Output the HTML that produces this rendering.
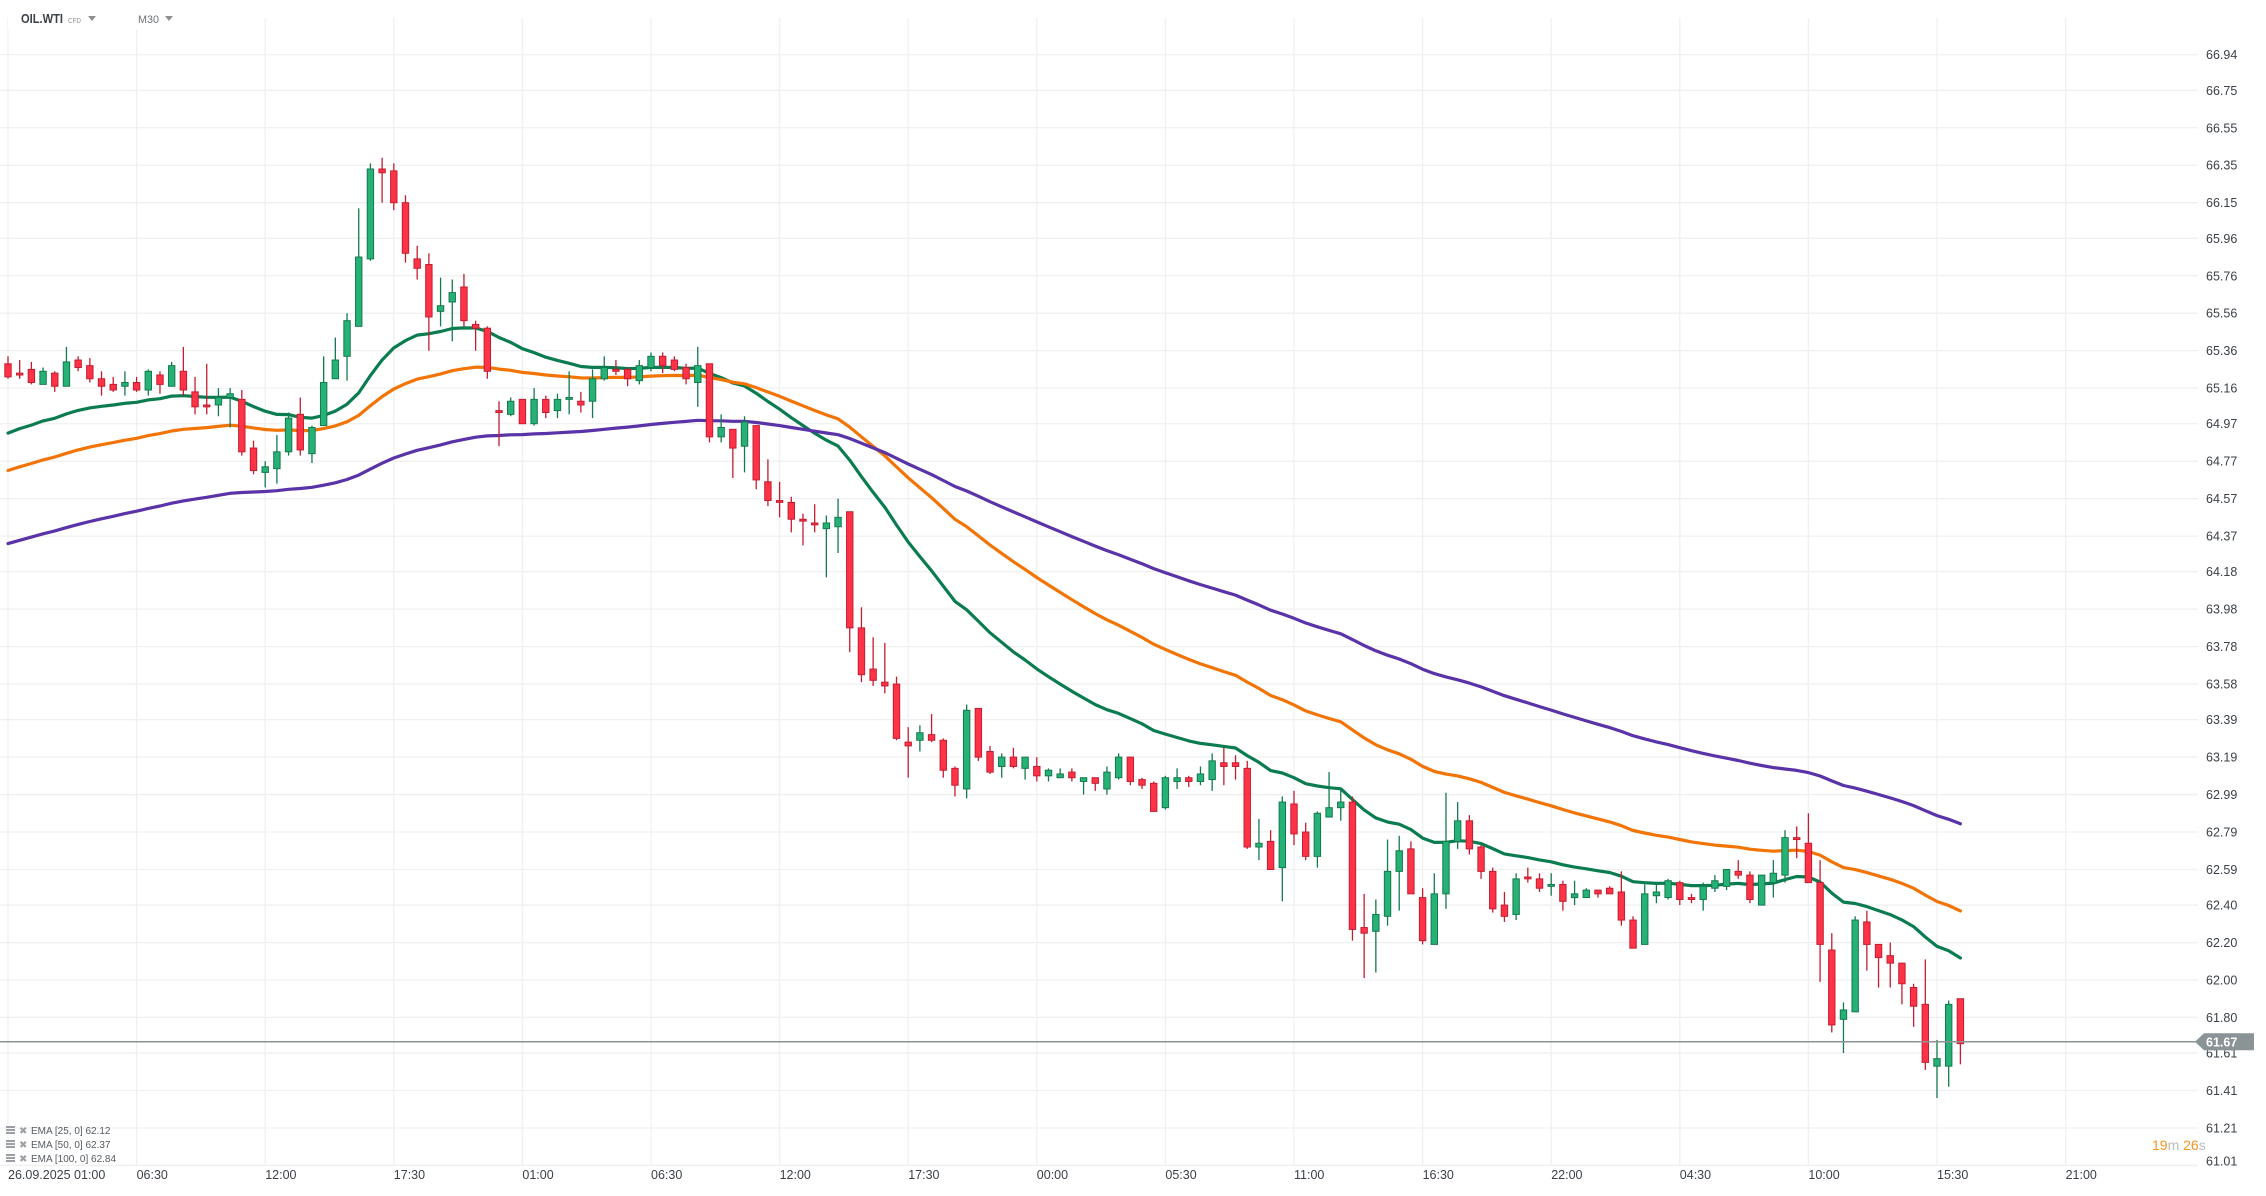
<!DOCTYPE html>
<html><head><meta charset="utf-8"><title>OIL.WTI M30</title>
<style>
html,body{margin:0;padding:0;background:#fff;}
body{width:2266px;height:1191px;overflow:hidden;font-family:"Liberation Sans",sans-serif;}
svg text{font-family:"Liberation Sans",sans-serif;}
</style></head>
<body>
<svg id="chart" width="2266" height="1191" viewBox="0 0 2266 1191" xmlns="http://www.w3.org/2000/svg">
  <g id="grid"></g>
  <g id="yaxis"></g>
  <g id="xaxis"></g>
  <g id="emas"></g>
  <g id="candles"></g>
  <g id="overlay"></g>
  <g>
    <rect x="8" y="4" width="175" height="26" fill="#fff"/>
    <text x="21" y="23" font-size="13" font-weight="bold" fill="#3a4148" textLength="42" lengthAdjust="spacingAndGlyphs">OIL.WTI</text>
    <text x="68" y="23" font-size="7.5" fill="#8a8f94" textLength="13" lengthAdjust="spacingAndGlyphs">CFD</text>
    <path d="M88 16 L96 16 L92 21 Z" fill="#8a8f94"/>
    <text x="138" y="23" font-size="11" fill="#6b7177" textLength="21" lengthAdjust="spacingAndGlyphs">M30</text>
    <path d="M165 16 L173 16 L169 21 Z" fill="#8a8f94"/>
  </g>
</svg>
<script>
const opens=[65.29,65.24,65.26,65.18,65.24,65.17,65.31,65.28,65.21,65.18,65.17,65.19,65.15,65.23,65.17,65.25,65.14,65.07,65.07,65.11,65.10,64.84,64.71,64.73,64.82,65.02,64.81,64.96,65.21,65.33,65.49,65.85,66.33,66.32,66.15,65.85,65.82,65.57,65.62,65.70,65.50,65.48,65.04,65.02,65.10,64.97,65.10,65.04,65.10,65.09,65.09,65.21,65.26,65.26,65.20,65.27,65.33,65.31,65.27,65.19,65.29,64.90,64.94,64.85,64.96,64.66,64.56,64.55,64.46,64.44,64.41,64.42,64.50,63.88,63.66,63.59,63.58,63.27,63.28,63.31,63.28,63.13,63.02,63.45,63.22,63.14,63.19,63.13,63.14,63.09,63.08,63.11,63.06,63.08,63.02,63.08,63.19,63.07,63.05,62.92,63.06,63.08,63.06,63.07,63.16,63.16,63.13,62.71,62.74,62.60,62.94,62.79,62.66,62.87,62.92,62.95,62.28,62.26,62.34,62.58,62.70,62.44,62.19,62.46,62.74,62.85,62.71,62.58,62.40,62.35,62.55,62.54,62.50,62.51,62.44,62.44,62.48,62.49,62.47,62.32,62.19,62.45,62.44,62.52,62.44,62.43,62.49,62.50,62.58,62.56,62.40,62.52,62.56,62.76,62.73,62.52,62.16,61.79,61.83,62.31,62.19,62.13,62.09,61.96,61.87,61.54,61.54,61.90];
const highs=[65.33,65.31,65.30,65.27,65.25,65.38,65.33,65.32,65.25,65.22,65.25,65.22,65.26,65.25,65.30,65.38,65.22,65.29,65.16,65.16,65.15,64.88,64.77,64.91,65.03,65.11,64.96,65.33,65.43,65.56,66.12,66.36,66.39,66.36,66.19,65.92,65.88,65.75,65.74,65.77,65.52,65.49,65.09,65.11,65.10,65.16,65.12,65.13,65.25,65.14,65.26,65.33,65.31,65.27,65.31,65.35,65.35,65.33,65.29,65.38,65.29,65.02,64.94,65.01,64.96,64.78,64.66,64.58,64.49,64.54,64.48,64.57,64.50,63.99,63.83,63.80,63.62,63.35,63.36,63.42,63.29,63.14,63.47,63.45,63.25,63.21,63.24,63.19,63.19,63.13,63.13,63.13,63.08,63.08,63.14,63.21,63.19,63.08,63.06,63.09,63.13,63.09,63.14,63.21,63.24,63.20,63.17,62.86,62.80,62.98,63.01,62.84,62.90,63.11,63.02,62.98,62.46,62.43,62.75,62.77,62.74,62.49,62.57,63.00,62.95,62.88,62.72,62.60,62.47,62.57,62.60,62.57,62.57,62.53,62.53,62.49,62.48,62.50,62.58,62.34,62.51,62.51,62.54,62.53,62.46,62.52,62.56,62.59,62.64,62.58,62.56,62.64,62.80,62.82,62.89,62.64,62.25,61.88,62.34,62.37,62.19,62.20,62.09,61.98,62.11,61.68,61.89,61.90];
const lows=[65.21,65.21,65.18,65.18,65.14,65.17,65.25,65.19,65.12,65.14,65.12,65.14,65.12,65.13,65.17,65.12,65.02,65.02,65.01,64.95,64.80,64.70,64.63,64.65,64.80,64.80,64.76,64.96,65.21,65.20,65.49,65.84,66.15,66.11,65.83,65.74,65.36,65.49,65.41,65.49,65.36,65.21,64.85,65.01,64.97,64.96,65.00,65.00,65.02,65.03,65.00,65.20,65.23,65.17,65.18,65.25,65.24,65.25,65.18,65.06,64.87,64.87,64.68,64.71,64.62,64.53,64.47,64.39,64.32,64.39,64.15,64.28,63.75,63.59,63.57,63.53,63.28,63.08,63.22,63.27,63.08,62.98,62.97,63.17,63.10,63.08,63.13,63.07,63.06,63.06,63.08,63.06,62.99,63.01,62.99,63.07,63.04,63.02,62.90,62.91,63.02,63.03,63.04,63.01,63.04,63.07,62.70,62.64,62.59,62.42,62.72,62.64,62.60,62.87,62.85,62.21,62.01,62.04,62.29,62.37,62.46,62.19,62.19,62.38,62.70,62.67,62.54,62.36,62.31,62.32,62.52,62.47,62.45,62.37,62.40,62.44,62.44,62.46,62.29,62.17,62.19,62.41,62.43,62.40,62.41,62.37,62.47,62.48,62.54,62.41,62.40,62.44,62.52,62.65,62.52,61.99,61.72,61.61,61.83,62.05,61.96,61.96,61.87,61.75,61.52,61.37,61.43,61.55];
const closes=[65.22,65.23,65.19,65.25,65.17,65.30,65.27,65.21,65.17,65.15,65.19,65.15,65.25,65.18,65.28,65.15,65.06,65.06,65.11,65.13,64.82,64.72,64.74,64.82,65.00,64.83,64.95,65.19,65.31,65.52,65.86,66.33,66.31,66.15,65.88,65.80,65.54,65.60,65.67,65.52,65.48,65.25,65.03,65.09,64.97,65.10,65.03,65.10,65.11,65.07,65.21,65.27,65.25,65.21,65.28,65.33,65.28,65.26,65.21,65.28,64.90,64.95,64.84,64.98,64.67,64.56,64.55,64.46,64.45,64.43,64.44,64.47,63.88,63.63,63.60,63.57,63.29,63.25,63.32,63.28,63.12,63.04,63.44,63.19,63.11,63.19,63.14,63.19,63.09,63.12,63.10,63.08,63.08,63.05,63.11,63.19,63.06,63.04,62.90,63.08,63.08,63.06,63.10,63.17,63.14,63.14,62.71,62.73,62.59,62.95,62.78,62.66,62.89,62.92,62.95,62.27,62.25,62.35,62.58,62.69,62.46,62.21,62.46,62.74,62.85,62.70,62.58,62.38,62.34,62.54,62.54,62.49,62.51,62.42,62.46,62.48,62.46,62.46,62.32,62.17,62.46,62.47,62.53,62.43,62.43,62.50,62.53,62.59,62.56,62.43,62.56,62.57,62.76,62.75,62.52,62.19,61.76,61.84,62.32,62.19,62.12,62.09,61.98,61.86,61.56,61.58,61.87,61.66];
const emaPeriods=[25,50,100];
const emaSeeds=[64.92,64.72,64.33];
const emaLabels=["EMA [25,  0] 62.12","EMA [50,  0] 62.37","EMA [100,  0] 62.84"];
const priceTicks=[66.94,66.75,66.55,66.35,66.15,65.96,65.76,65.56,65.36,65.16,64.97,64.77,64.57,64.37,64.18,63.98,63.78,63.58,63.39,63.19,62.99,62.79,62.59,62.40,62.20,62.00,61.80,61.61,61.41,61.21,61.01];
const timeLabels=["26.09.2025  01:00","06:30","12:00","17:30","01:00","06:30","12:00","17:30","00:00","05:30","11:00","16:30","22:00","04:30","10:00","15:30","21:00"];
const lastPrice=61.67;

const NS="http://www.w3.org/2000/svg";
const X0=8, STEP=128.6/11, PLOT_R=2198, GRID_TOP=18, GRID_BOT=1165;
function xScale(i){return X0+STEP*i;}
function yScale(p){return 980-(p-62)*187.3;}
function mk(tag,attrs,parent){const e=document.createElementNS(NS,tag);for(const k in attrs)e.setAttribute(k,attrs[k]);parent.appendChild(e);return e;}

const grid=document.getElementById('grid'), yaxis=document.getElementById('yaxis'), xaxis=document.getElementById('xaxis');
priceTicks.forEach((p,i)=>{
  const y=yScale(p);
  const l=mk('line',{x1:0,x2:PLOT_R,y1:y,y2:y,stroke:'#f0f0f0','stroke-width':1.3},grid);
  
  
  const t=mk('text',{x:2206,y:(i===priceTicks.length-1? y: y+4.5),'font-size':12.5,fill:'#3a4148'},yaxis);
  t.textContent=p.toFixed(2);
  
  
});
timeLabels.forEach((s,k)=>{
  const x=xScale(k*11);
  const l=mk('line',{x1:x,x2:x,y1:GRID_TOP,y2:GRID_BOT,stroke:'#f0f0f0','stroke-width':1.3},grid);
  
  
  const t=mk('text',{x:x,y:1179,'font-size':12.5,fill:'#3a4148','xml:space':'preserve'},xaxis);
  t.textContent=s;
  
  
});

const emaColors=['#0a7c50','#f27405','#5a33a8'];
const emaG=document.getElementById('emas');
emaPeriods.forEach((n,j)=>{
  const k=2/(n+1); let e=emaSeeds[j]; let d='';
  closes.forEach((c,i)=>{ if(i>0) e=e+k*(c-e); d+=(i?'L':'M')+xScale(i).toFixed(1)+' '+yScale(e).toFixed(1); });
  const p=mk('path',{d:d,fill:'none',stroke:emaColors[j],'stroke-width':3.2,'stroke-linejoin':'round','stroke-linecap':'round'},emaG);
  
  
});

const cg=document.getElementById('candles');
closes.forEach((c,i)=>{
  const o=opens[i], up=c>=o, x=xScale(i);
  const stroke=up?'#137a4e':'#c41d31', fill=up?'#26b276':'#ff3347';
  const g=mk('g',{},cg);
  
  
  mk('line',{x1:x,x2:x,y1:yScale(highs[i]),y2:yScale(lows[i]),stroke:stroke,'stroke-width':1.3},g);
  const top=yScale(Math.max(o,c)), bot=yScale(Math.min(o,c));
  mk('rect',{x:x-3.2,y:top,width:6.4,height:Math.max(bot-top,1.5),fill:fill,stroke:stroke,'stroke-width':1},g);
});

const ov=document.getElementById('overlay');
const ly=yScale(lastPrice);
const pl=mk('line',{x1:0,x2:2196,y1:ly,y2:ly,stroke:'#8c9396','stroke-width':1.5},ov);


const tag=mk('path',{d:`M2195 ${ly} L2204 ${ly-8.5} L2254 ${ly-8.5} L2254 ${ly+8.5} L2204 ${ly+8.5} Z`,fill:'#8a9396'},ov);


const tt=mk('text',{x:2206,y:ly+4.5,'font-size':12.5,'font-weight':'bold',fill:'#fff'},ov);
tt.textContent=lastPrice.toFixed(2);


</script>
<svg style="position:absolute;left:0;top:0" width="2266" height="1191">
  <text x="2152" y="1150" font-size="14" font-family="Liberation Sans, sans-serif"><tspan fill="#f7931e">19</tspan><tspan fill="#b8bcc0">m </tspan><tspan fill="#f7931e">26</tspan><tspan fill="#b8bcc0">s</tspan></text>
  <g font-family="Liberation Sans, sans-serif" font-size="10" fill="#555b61">
    <g>
      <rect x="6" y="1126" width="9" height="2" fill="#9aa0a5"/><rect x="6" y="1129" width="9" height="2" fill="#9aa0a5"/><rect x="6" y="1132" width="9" height="2" fill="#9aa0a5"/>
      <text x="19" y="1134" fill="#9aa0a5">✖</text>
      <text x="31" y="1134">EMA [25,  0] 62.12</text>
    </g>
    <g>
      <rect x="6" y="1140" width="9" height="2" fill="#9aa0a5"/><rect x="6" y="1143" width="9" height="2" fill="#9aa0a5"/><rect x="6" y="1146" width="9" height="2" fill="#9aa0a5"/>
      <text x="19" y="1148" fill="#9aa0a5">✖</text>
      <text x="31" y="1148">EMA [50,  0] 62.37</text>
    </g>
    <g>
      <rect x="6" y="1154" width="9" height="2" fill="#9aa0a5"/><rect x="6" y="1157" width="9" height="2" fill="#9aa0a5"/><rect x="6" y="1160" width="9" height="2" fill="#9aa0a5"/>
      <text x="19" y="1162" fill="#9aa0a5">✖</text>
      <text x="31" y="1162">EMA [100,  0] 62.84</text>
    </g>
  </g>
</svg>
</body></html>
